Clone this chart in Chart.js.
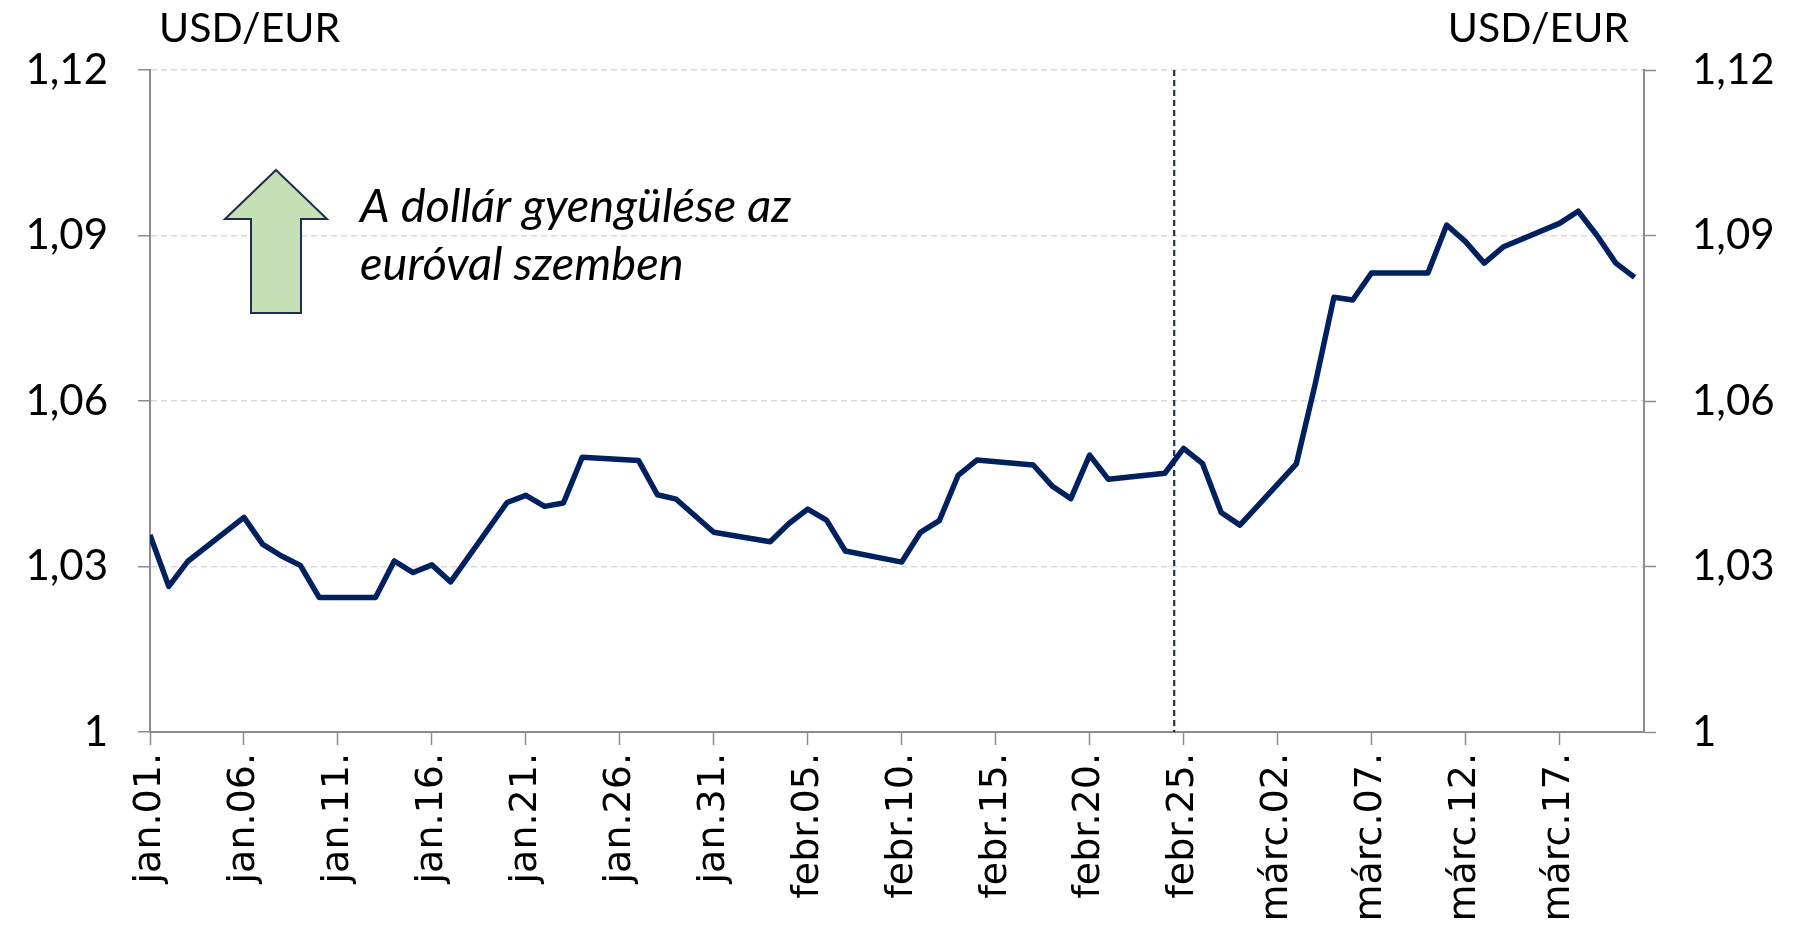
<!DOCTYPE html>
<html>
<head>
<meta charset="utf-8">
<script src="https://cdn.jsdelivr.net/npm/chart.js@4"></script>
<style>
  html, body { margin: 0; padding: 0; background: #fff; }
  #wrap { width: 1805px; height: 934px; }
</style>
</head>
<body>
<div id="wrap"><canvas id="chart" width="1805" height="934"></canvas></div>
<script>
// DATA

const dates = [
    '2025-01-01', '2025-01-02', '2025-01-03', '2025-01-06', '2025-01-07', '2025-01-08', '2025-01-09', '2025-01-10',
    '2025-01-13', '2025-01-14', '2025-01-15', '2025-01-16', '2025-01-17', '2025-01-20', '2025-01-21', '2025-01-22',
    '2025-01-23', '2025-01-24', '2025-01-27', '2025-01-28', '2025-01-29', '2025-01-30', '2025-01-31', '2025-02-03',
    '2025-02-04', '2025-02-05', '2025-02-06', '2025-02-07', '2025-02-10', '2025-02-11', '2025-02-12', '2025-02-13',
    '2025-02-14', '2025-02-17', '2025-02-18', '2025-02-19', '2025-02-20', '2025-02-21', '2025-02-24', '2025-02-25',
    '2025-02-26', '2025-02-27', '2025-02-28', '2025-03-03', '2025-03-04', '2025-03-05', '2025-03-06', '2025-03-07',
    '2025-03-10', '2025-03-11', '2025-03-12', '2025-03-13', '2025-03-14', '2025-03-17', '2025-03-18', '2025-03-19',
    '2025-03-20', '2025-03-21'
];

const usdEur = [
    1.0357, 1.0264, 1.0309, 1.0389, 1.0340, 1.0319, 1.0302, 1.0244,
    1.0244, 1.0310, 1.0289, 1.0303, 1.0272, 1.0416, 1.0429, 1.0409,
    1.0415, 1.0498, 1.0492, 1.0430, 1.0422, 1.0392, 1.0362, 1.0345,
    1.0378, 1.0404, 1.0384, 1.0328, 1.0308, 1.0362, 1.0383, 1.0465,
    1.0493, 1.0484, 1.0446, 1.0423, 1.0502, 1.0458, 1.0469, 1.0514,
    1.0487, 1.0398, 1.0375, 1.0486, 1.0630, 1.0788, 1.0783, 1.0832,
    1.0832, 1.0919, 1.0889, 1.0850, 1.0879, 1.0922, 1.0944, 1.0900,
    1.0850, 1.0824
];

const tickLabels = [
    'jan.01.', 'jan.06.', 'jan.11.', 'jan.16.', 'jan.21.', 'jan.26.', 'jan.31.', 'febr.05.',
    'febr.10.', 'febr.15.', 'febr.20.', 'febr.25.', 'márc.02.', 'márc.07.', 'márc.12.', 'márc.17.'
];

const yTicks = [1, 1.03, 1.06, 1.09, 1.12];

const axisTitle = 'USD/EUR';
const noteLines = ['A dollár gyengülése az', 'euróval szemben'];
const cutoffDay = 54.5;   // between febr.24. and febr.25.
const lastDay = 79.5;


// HELPERS

const start = Date.UTC(2025, 0, 1);
const dayIndex = (iso) => Math.round((Date.parse(iso + 'T00:00:00Z') - start) / 86400000);
const fmtY = (v) => Number(v.toFixed(2)).toString().replace('.', ',');

const colors = {
    line: '#002060',
    axis: '#8c8c8c',
    grid: '#d9d9d9',
    arrowFill: '#c5e0b4',
    arrowStroke: '#1f2d4e'
};

const yFont = { family: 'Lato', size: 42 };
const xFont = { family: "'DejaVu Sans'", size: 38 };


// ANNOTATIONS

const notes = {
    id: 'notes',
    beforeDatasetsDraw(chart) {
        const { ctx, chartArea: a, scales } = chart;
        const x = scales.x.getPixelForValue(cutoffDay);
        ctx.save();
        ctx.strokeStyle = '#1f2d4e';
        ctx.lineWidth = 2.2;
        ctx.setLineDash([6, 4]);
        ctx.beginPath();
        ctx.moveTo(x, a.top);
        ctx.lineTo(x, a.bottom);
        ctx.stroke();
        ctx.restore();
    },
    afterDraw(chart) {
        const { ctx, chartArea: a } = chart;
        ctx.save();

        // axis titles
        ctx.fillStyle = '#000';
        ctx.font = '41px Lato';
        ctx.textBaseline = 'middle';
        ctx.textAlign = 'left';
        ctx.fillText(axisTitle, a.left + 9, 29);
        ctx.textAlign = 'right';
        ctx.fillText(axisTitle, a.right - 15, 29);

        // arrow
        const cx = a.left + 126, tip = a.top + 100, head = a.top + 149, bottom = a.top + 243;
        ctx.beginPath();
        ctx.moveTo(cx, tip);
        ctx.lineTo(cx + 51, head);
        ctx.lineTo(cx + 25, head);
        ctx.lineTo(cx + 25, bottom);
        ctx.lineTo(cx - 25, bottom);
        ctx.lineTo(cx - 25, head);
        ctx.lineTo(cx - 51, head);
        ctx.closePath();
        ctx.fillStyle = colors.arrowFill;
        ctx.fill();
        ctx.strokeStyle = colors.arrowStroke;
        ctx.lineWidth = 2;
        ctx.stroke();

        // note text
        ctx.fillStyle = '#000';
        ctx.font = 'italic 47px Lato';
        ctx.textAlign = 'left';
        ctx.fillText(noteLines[0], a.left + 210, a.top + 137);
        ctx.fillText(noteLines[1], a.left + 210, a.top + 195);

        ctx.restore();
    }
};


// CHART

const ctx = document.getElementById('chart').getContext('2d');

new Chart(ctx, {
    type: 'line',
    data: {
        datasets: [{
            data: dates.map((d, i) => ({ x: dayIndex(d), y: usdEur[i] })),
            borderColor: colors.line,
            borderWidth: 5.5,
            pointRadius: 0,
            tension: 0,
            borderJoinStyle: 'round',
            yAxisID: 'y'
        }]
    },
    options: {
        responsive: false,
        animation: false,
        devicePixelRatio: 1,
        layout: { padding: { top: 70, left: 0, right: 0, bottom: 0 } },
        plugins: { legend: { display: false }, tooltip: { enabled: false } },
        scales: {
            x: {
                type: 'linear',
                min: 0,
                max: lastDay,
                afterBuildTicks: (s) => { s.ticks = tickLabels.map((_, i) => ({ value: i * 5 })); },
                afterFit: (s) => { s.height = 202; },
                ticks: {
                    callback: (v, i) => tickLabels[i],
                    minRotation: 90,
                    maxRotation: 90,
                    autoSkip: false,
                    padding: 8,
                    color: '#000',
                    font: xFont
                },
                grid: { drawOnChartArea: false, tickLength: 13, tickColor: colors.axis, tickWidth: 1.5 },
                border: { color: colors.axis, width: 2 }
            },
            y: {
                position: 'left',
                min: 1,
                max: 1.12,
                afterBuildTicks: (s) => { s.ticks = yTicks.map(v => ({ value: v })); },
                afterFit: (s) => { s.width = 150; },
                ticks: { callback: (v) => fmtY(v), color: '#000', font: yFont, padding: 30 },
                grid: { color: colors.grid, lineWidth: 1.5, tickLength: 12, tickColor: colors.axis, tickWidth: 1.5 },
                border: { color: colors.axis, width: 2, dash: [6, 4] }
            },
            y2: {
                position: 'right',
                min: 1,
                max: 1.12,
                afterBuildTicks: (s) => { s.ticks = yTicks.map(v => ({ value: v })); },
                afterFit: (s) => { s.width = 161; },
                ticks: { callback: (v) => fmtY(v), color: '#000', font: yFont, padding: 36 },
                grid: { drawOnChartArea: false, tickLength: 12, tickColor: colors.axis, tickWidth: 1.5 },
                border: { color: colors.axis, width: 2 }
            }
        }
    },
    plugins: [notes]
});
</script>
</body>
</html>
